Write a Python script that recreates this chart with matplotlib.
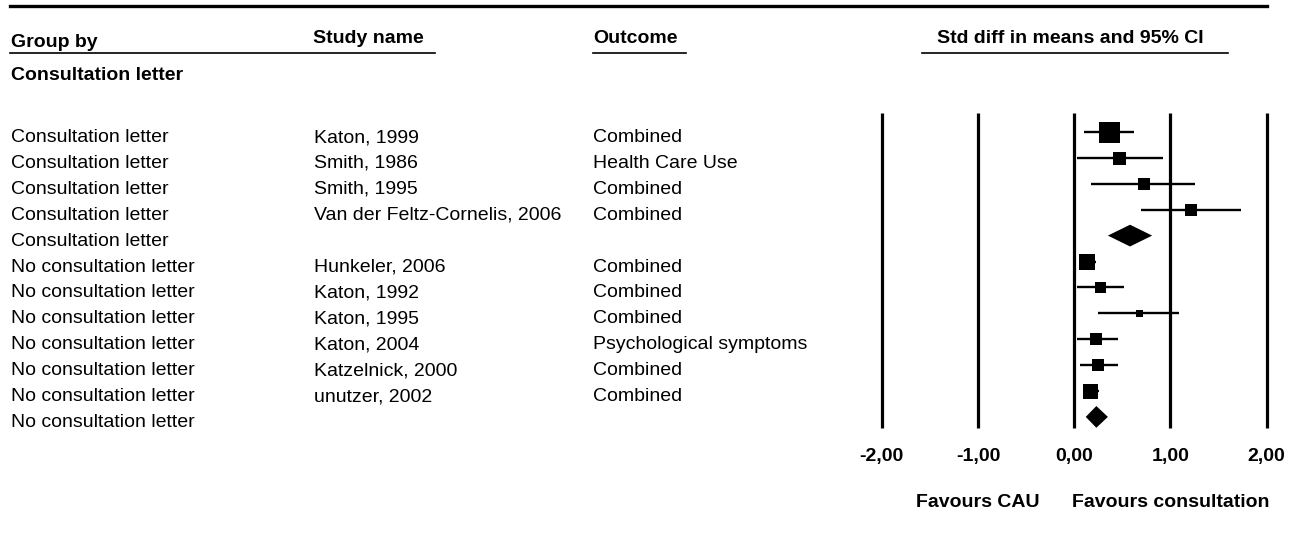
import numpy as np
import matplotlib
matplotlib.use("Agg")
import matplotlib.pyplot as plt
from matplotlib.lines import Line2D
from matplotlib.transforms import blended_transform_factory

plt.rcParams['font.family'] = ['Liberation Sans', 'DejaVu Sans']

# ── data ────────────────────────────────────────────────
groups = ["Consultation letter"] * 5 + ["No consultation letter"] * 7
studies = ["Katon, 1999", "Smith, 1986", "Smith, 1995",
           "Van der Feltz-Cornelis, 2006", "",
           "Hunkeler, 2006", "Katon, 1992", "Katon, 1995", "Katon, 2004",
           "Katzelnick, 2000", "unutzer, 2002", ""]
outcomes = ["Combined", "Health Care Use", "Combined", "Combined", "",
            "Combined", "Combined", "Combined", "Psychological symptoms",
            "Combined", "Combined", ""]
est = [0.36, 0.47, 0.72, 1.21, 0.58, 0.13, 0.27, 0.67, 0.23, 0.25, 0.16, 0.23]
lo  = [0.10, 0.03, 0.17, 0.69, 0.35, 0.05, 0.03, 0.25, 0.03, 0.06, 0.09, 0.12]
hi  = [0.62, 0.92, 1.26, 1.73, 0.81, 0.23, 0.52, 1.09, 0.46, 0.45, 0.26, 0.35]
summary = [False, False, False, False, True,
           False, False, False, False, False, False, True]
# relative study weight (drives square size)
weight = [21, 13, 12, 12, 0, 16, 11, 7, 12, 12, 15, 0]

ticks = [-2, -1, 0, 1, 2]
tick_labels = ["-2,00", "-1,00", "0,00", "1,00", "2,00"]

# ── layout (pixels) ─────────────────────────────────────
W, H = 1303, 552
AX_RIGHT = 1288          # picture is cut just after the last tick label
PX_UNIT, PX_ZERO = 96.25, 1074.2
ROW0, ROW_STEP = 132, 25.9

def row(ypx):
    return (ypx - ROW0) / ROW_STEP

fig = plt.figure(figsize=(W / 100, H / 100), dpi=100)
fig.patch.set_facecolor('white')
ax = fig.add_axes([0, 0, AX_RIGHT / W, 1])
ax.axis('off')
ax.set_xlim(-PX_ZERO / PX_UNIT, (AX_RIGHT - PX_ZERO) / PX_UNIT)
ax.set_ylim(row(H), row(0))

# vertical reference lines
ax.vlines(ticks, row(113), row(428), color='black', lw=2.3)

# studies and subtotals
for i in range(len(est)):
    if summary[i]:
        h = 0.42
        ax.fill([lo[i], est[i], hi[i], est[i]], [i, i - h, i, i + h],
                color='black', lw=0)
    else:
        ax.hlines(i, lo[i], hi[i], color='black', lw=1.7)
        ax.plot(est[i], i, 's', color='black', ms=weight[i] * 0.72,
                mew=0)

# tick labels and favours labels
for t, lab in zip(ticks, tick_labels):
    ax.text(t, row(461), lab, ha='center', va='baseline', fontsize=14,
            weight='bold', clip_on=True)
ax.text(-1, row(507), "Favours CAU", ha='center', va='baseline',
        fontsize=14, weight='bold')
ax.text(1, row(507), "Favours consultation", ha='center', va='baseline',
        fontsize=14, weight='bold')

# row text columns
tr = blended_transform_factory(fig.transFigure, ax.transData)
for i in range(len(groups)):
    yb = i + 10 / ROW_STEP
    ax.text(11 / W, yb, groups[i], transform=tr, fontsize=14, va='baseline')
    ax.text(314 / W, yb, studies[i], transform=tr, fontsize=14, va='baseline')
    ax.text(593 / W, yb, outcomes[i], transform=tr, fontsize=14, va='baseline')

# header
def ftext(x, y, s, **kw):
    fig.text(x / W, 1 - y / H, s, fontsize=14, weight='bold',
             va='baseline', **kw)

def fline(x0, x1, y, lw):
    fig.add_artist(Line2D([x0 / W, x1 / W], [1 - y / H, 1 - y / H],
                          color='black', lw=lw))

fline(10, 1267, 6, 2.4)
ftext(11, 47, "Group by")
ftext(313, 43, "Study name")
ftext(593, 43, "Outcome")
ftext(1070, 43, "Std diff in means and 95% CI", ha='center')
fline(10, 435, 53, 1.2)
fline(593, 686, 53, 1.2)
fline(922, 1228, 53, 1.2)
ftext(11, 80, "Consultation letter")

fig.savefig("out.png", dpi=100, facecolor='white')
